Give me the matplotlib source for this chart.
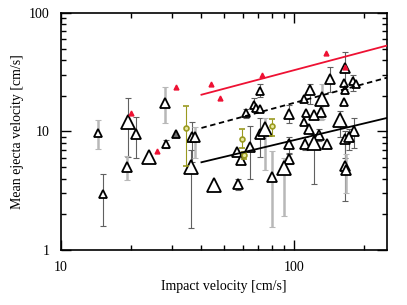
import numpy as np
import matplotlib.pyplot as plt
from matplotlib.ticker import FuncFormatter, NullFormatter

plt.rcParams['font.family'] = ['Liberation Serif', 'DejaVu Serif']

# experiment points (triangles): impact velocity, mean ejecta velocity, error bounds
imp_v = [14.4, 15.2, 19.4, 19.1, 20.9, 23.8, 28.2, 27.9, 31.2, 36.5, 37.5, 36.0, 45.1,
         71.5, 66.9, 68.7, 71.5, 62.1, 94.9, 71.2, 75.1, 56.8, 59.0, 64.7, 80.2, 57.3,
         94.5, 94.5, 90.0, 165.5, 142.7, 162.8, 164.4, 177.9, 184.0, 117.2, 110.4, 131.5,
         130.2, 112.6, 121.1, 157.5, 109.6, 115.2, 127.2, 179.7, 165.5, 172.0, 111.5,
         121.1, 138.1, 165.5, 166.0, 162.8]
ej_v = [9.7, 2.95, 12.1, 5.0, 9.5, 6.1, 7.8, 17.5, 9.5, 9.0, 9.0, 5.0, 3.57,
        22.0, 16.8, 15.9, 15.4, 14.3, 14.0, 9.5, 10.5, 6.7, 5.7, 7.4, 4.14, 3.6,
        7.9, 5.85, 4.9, 34.0, 27.7, 25.6, 22.5, 26.4, 25.1, 22.5, 18.7, 18.7,
        14.7, 14.4, 13.8, 12.5, 11.9, 10.4, 9.3, 10.0, 8.6, 8.9, 7.9,
        8.0, 7.9, 5.1, 4.7, 17.7]
ej_lo = [7.1, 1.61, 6.1, 3.9, 6.0, 6.1, 7.2, 11.7, 9.5, 5.5, 6.0, 1.54, 3.57,
         19.5, 15.0, 15.9, 15.4, 13.0, 11.7, 6.1, 4.7, 6.7, 5.7, 4.0, 1.56, 3.2,
         6.5, 5.3, 1.92, 23.0, 21.7, 25.6, 22.5, 22.0, 25.1, 17.0, 18.7, 12.7,
         12.5, 14.4, 13.8, 9.0, 11.9, 10.4, 8.3, 7.3, 6.0, 7.0, 7.0,
         3.63, 7.9, 2.6, 3.0, 17.7]
ej_hi = [12.4, 4.34, 19.0, 6.2, 13.2, 6.1, 8.5, 23.7, 9.5, 12.0, 11.0, 7.0, 3.57,
         25.3, 19.0, 15.9, 15.4, 15.5, 16.6, 12.9, 12.9, 6.7, 5.7, 11.1, 6.85, 4.0,
         9.0, 6.6, 6.0, 47.0, 35.0, 25.6, 22.5, 30.0, 25.1, 25.0, 18.7, 25.0,
         17.0, 14.4, 13.8, 15.0, 11.9, 10.4, 10.5, 13.0, 10.0, 10.5, 9.0,
         9.5, 7.9, 8.0, 6.5, 17.7]
size_cls = [0, 0, 2, 1, 1, 2, 0, 1, 0, 1, 1, 2, 2,
            0, 0, 0, 0, 0, 1, 1, 2, 1, 1, 1, 1, 1,
            1, 1, 2, 1, 1, 0, 0, 0, 0, 1, 0, 2,
            1, 0, 1, 2, 0, 1, 1, 1, 1, 1, 1,
            2, 1, 1, 1, 0]
bar_cls = [1, 2, 2, 1, 2, 0, 2, 1, 0, 2, 1, 2, 0,
           2, 2, 0, 0, 2, 2, 2, 1, 0, 0, 2, 1, 2,
           2, 2, 1, 2, 2, 0, 0, 2, 0, 2, 0, 1,
           1, 0, 0, 2, 0, 0, 2, 2, 2, 2, 2,
           2, 0, 2, 1, 0]

# red points
red_x = [20.0, 25.9, 31.1, 44.0, 48.0, 72.9, 137.0, 165.5]
red_y = [14.3, 6.8, 23.5, 25.3, 19.3, 29.7, 46.0, 34.7]

# olive points
ol_x = [34.2, 59.7, 80.5, 60.6]
ol_y = [10.7, 8.6, 11.1, 6.3]
ol_lo = [5.1, 7.2, 9.1, 5.9]
ol_hi = [16.4, 10.4, 12.7, 6.7]

# fitted lines
fit_x = [40, 250]
fit_red = [20.4, 53.0]
fit_dash = [10.7, 28.4]
fit_solid = [5.5, 13.0]

msizes = [5.2, 7, 9.5]
bar_styles = {1: dict(color='#b8b8b8', lw=1.8), 2: dict(color='#606060', lw=0.8)}

fig = plt.figure(figsize=(4.07, 3.05), dpi=100)
ax = fig.add_axes([0.150, 0.180, 0.801, 0.778])
ax.set_xscale('log')
ax.set_yscale('log')

for i in range(len(imp_v)):
    if bar_cls[i]:
        st = bar_styles[bar_cls[i]]
        ax.errorbar(imp_v[i], ej_v[i], yerr=[[ej_v[i] - ej_lo[i]], [ej_hi[i] - ej_v[i]]],
                    fmt='none', ecolor=st['color'], elinewidth=st['lw'],
                    capsize=2, capthick=0.8, zorder=2)
for i in range(len(imp_v)):
    fc = '#707070' if i == 8 else 'white'
    ax.plot(imp_v[i], ej_v[i], marker='^', ms=msizes[size_cls[i]], mfc=fc,
            mec='black', mew=1.3, ls='none', zorder=3)

ax.errorbar(ol_x, ol_y, yerr=[np.subtract(ol_y, ol_lo), np.subtract(ol_hi, ol_y)],
            fmt='o', ms=3.5, mfc='#e8e8a0', mec='#9a9a20', mew=1.2,
            ecolor='#9a9a20', elinewidth=0.8, capsize=2, zorder=4)
ax.plot(red_x, red_y, '^', ms=3.5, color='#ee1133', zorder=4)

ax.plot(fit_x, fit_red, color='#ee1133', lw=1.3, zorder=5)
ax.plot(fit_x, fit_dash, color='black', lw=1.3, ls=(0, (3, 2)), zorder=5)
ax.plot(fit_x, fit_solid, color='black', lw=1.3, zorder=5)

ax.set_xlim(10, 250)
ax.set_ylim(1, 100)
fmt = FuncFormatter(lambda v, p: f'{v:g}')
ax.xaxis.set_major_formatter(fmt)
ax.yaxis.set_major_formatter(fmt)
ax.xaxis.set_minor_formatter(NullFormatter())
ax.yaxis.set_minor_formatter(NullFormatter())
ax.tick_params(which='both', direction='in', top=True, right=True, labelsize=10, width=1)
ax.tick_params(which='major', length=7, pad=8)
ax.tick_params(which='minor', length=3.5)
for s in ax.spines.values():
    s.set_linewidth(1.2)

ax.set_xlabel('Impact velocity [cm/s]', fontsize=10)
ax.set_ylabel('Mean ejecta velocity [cm/s]', fontsize=10)

fig.savefig('out.png', dpi=100)
